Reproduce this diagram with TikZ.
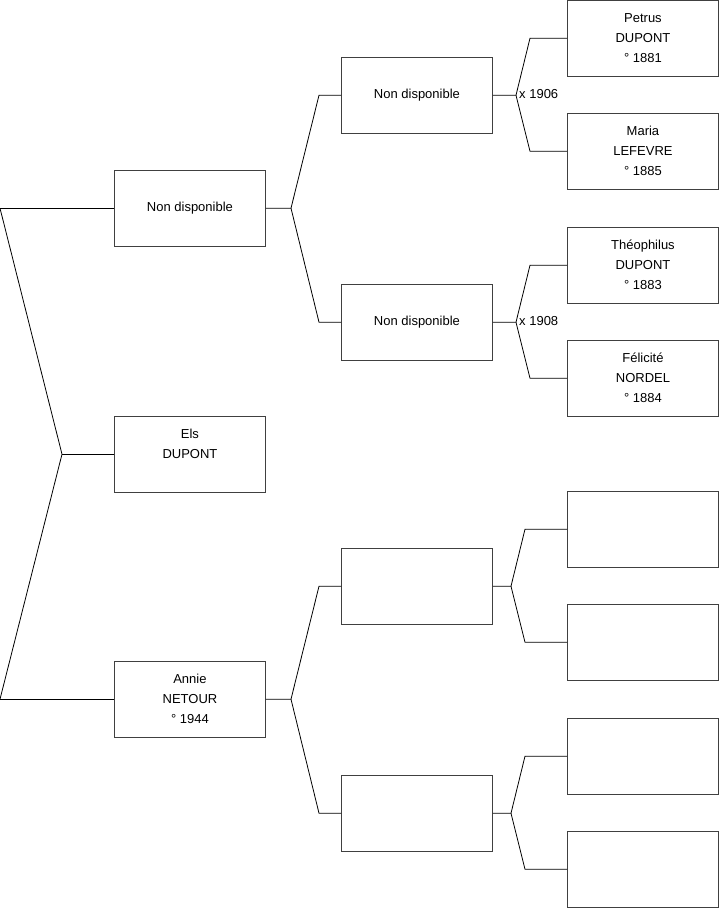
\documentclass[tikz,border=0pt]{standalone}
\usepackage{fontspec}
\setmainfont{Liberation Sans}
\usepackage{tikz}
\usetikzlibrary{calc}

\begin{document}
\begin{tikzpicture}[
    x=1pt, y=-1pt,
    every node/.style={font=\fontsize{13}{20}\selectfont},
    person/.style={draw=black!75,line width=0.9pt,anchor=north west,
      minimum width=151pt,minimum height=75.5pt,inner sep=0pt,align=center},
    link/.style={draw=black,line width=0.8pt},
    wed/.style={anchor=west,inner sep=0pt}
]
\useasboundingbox (0,0) rectangle (719,908);

% generation 1 and 2
\node[person] (E)  at (114,416) {Els\\DUPONT\\~};
\node[person] (A)  at (114,170) {Non disponible};
\node[person] (B)  at (114,661) {Annie\\NETOUR\\° 1944};

% generation 3
\node[person] (A1) at (341,57)  {Non disponible};
\node[person] (A2) at (341,284) {Non disponible};
\node[person] (B1) at (341,548) {};
\node[person] (B2) at (341,775) {};

% generation 4
\node[person] (A11) at (567,0)   {Petrus\\DUPONT\\° 1881};
\node[person] (A12) at (567,113) {Maria\\LEFEVRE\\° 1885};
\node[person] (A21) at (567,227) {Théophilus\\DUPONT\\° 1883};
\node[person] (A22) at (567,340) {Félicité\\NORDEL\\° 1884};
\node[person] (B11) at (567,491) {};
\node[person] (B12) at (567,604) {};
\node[person] (B21) at (567,718) {};
\node[person] (B22) at (567,831) {};

% fork points
\coordinate (lA) at (A.west -| 0,0);
\coordinate (lB) at (B.west -| 0,0);
\coordinate (fE) at (E.west -| 62,0);
\coordinate (fA) at (A.east -| 291,0);
\coordinate (fB) at (B.east -| 291,0);
\coordinate (fA1) at (A1.east -| 516,0);
\coordinate (fA2) at (A2.east -| 516,0);
\coordinate (fB1) at (B1.east -| 511,0);
\coordinate (fB2) at (B2.east -| 511,0);

% parents of Els
\draw[link] (lA) -- (A.west);
\draw[link] (lB) -- (B.west);
\draw[link] (lA) -- (fE) -- (lB);
\draw[link] (fE) -- (E.west);

% parents of generation 2
\draw[link] (A.east) -- (fA) -- ([xshift=-22pt]A1.west) -- (A1.west);
\draw[link] (fA) -- ([xshift=-22pt]A2.west) -- (A2.west);
\draw[link] (B.east) -- (fB) -- ([xshift=-22pt]B1.west) -- (B1.west);
\draw[link] (fB) -- ([xshift=-22pt]B2.west) -- (B2.west);

% parents of generation 3
\draw[link] (A1.east) -- (fA1) -- ([xshift=-37pt]A11.west) -- (A11.west);
\draw[link] (fA1) -- ([xshift=-37pt]A12.west) -- (A12.west);
\draw[link] (A2.east) -- (fA2) -- ([xshift=-37pt]A21.west) -- (A21.west);
\draw[link] (fA2) -- ([xshift=-37pt]A22.west) -- (A22.west);
\draw[link] (B1.east) -- (fB1) -- ([xshift=-42pt]B11.west) -- (B11.west);
\draw[link] (fB1) -- ([xshift=-42pt]B12.west) -- (B12.west);
\draw[link] (B2.east) -- (fB2) -- ([xshift=-42pt]B21.west) -- (B21.west);
\draw[link] (fB2) -- ([xshift=-42pt]B22.west) -- (B22.west);

% marriages
\node[wed] (mA1) at ([xshift=3pt,yshift=1pt]fA1) {x 1906};
\node[wed] (mA2) at ([xshift=3pt,yshift=1pt]fA2) {x 1908};
\end{tikzpicture}
\end{document}
